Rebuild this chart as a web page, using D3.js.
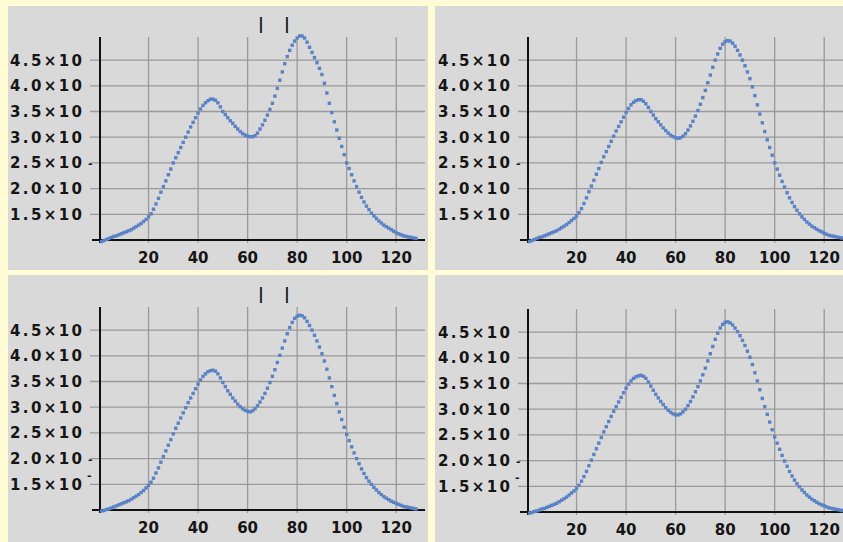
<!DOCTYPE html>
<html>
<head>
<meta charset="utf-8">
<script src="https://cdn.jsdelivr.net/npm/d3@7"></script>
<style>
  body { margin: 0; background: #fffcd6; }
  svg { display: block; }
  text { font-family: "DejaVu Sans", sans-serif; font-weight: bold; fill: #151515; }
</style>
</head>
<body>
<div id="chart"></div>
<script>
// values, one per x = 1 .. 128
const topLeftValues = [
  0.97,0.99,1.01,1.03,1.05,1.07,1.08,1.10,1.12,1.14,
  1.16,1.18,1.20,1.23,1.26,1.29,1.32,1.36,1.40,1.45,
  1.51,1.60,1.70,1.81,1.93,2.04,2.15,2.27,2.38,2.50,
  2.60,2.70,2.80,2.90,3.00,3.10,3.20,3.29,3.38,3.47,
  3.55,3.62,3.67,3.71,3.74,3.74,3.72,3.67,3.59,3.50,
  3.44,3.38,3.32,3.27,3.21,3.16,3.11,3.07,3.04,3.02,
  3.01,3.01,3.03,3.08,3.16,3.24,3.33,3.43,3.54,3.66,
  3.80,3.95,4.11,4.27,4.43,4.57,4.69,4.79,4.87,4.93,
  4.97,4.97,4.93,4.85,4.75,4.65,4.55,4.45,4.34,4.22,
  4.05,3.86,3.66,3.48,3.30,3.14,2.98,2.82,2.66,2.50,
  2.39,2.27,2.15,2.04,1.93,1.83,1.74,1.66,1.59,1.52,
  1.47,1.42,1.37,1.33,1.29,1.26,1.23,1.20,1.17,1.14,
  1.12,1.10,1.08,1.07,1.06,1.05,1.04,1.03
];
const topRightValues = [
  0.97,0.99,1.01,1.03,1.05,1.06,1.08,1.10,1.12,1.14,
  1.16,1.18,1.21,1.24,1.27,1.30,1.34,1.38,1.42,1.47,
  1.53,1.61,1.71,1.82,1.94,2.05,2.16,2.28,2.39,2.51,
  2.62,2.72,2.82,2.92,3.02,3.12,3.21,3.30,3.39,3.48,
  3.56,3.63,3.68,3.71,3.73,3.73,3.70,3.65,3.58,3.50,
  3.43,3.36,3.30,3.24,3.18,3.13,3.08,3.04,3.01,2.99,
  2.98,2.99,3.02,3.07,3.14,3.22,3.31,3.41,3.52,3.64,
  3.77,3.91,4.06,4.21,4.36,4.50,4.62,4.73,4.81,4.86,
  4.88,4.87,4.83,4.77,4.69,4.60,4.50,4.39,4.27,4.14,
  3.98,3.81,3.63,3.45,3.28,3.11,2.95,2.80,2.65,2.50,
  2.38,2.26,2.14,2.03,1.92,1.82,1.73,1.65,1.58,1.51,
  1.45,1.40,1.35,1.31,1.27,1.24,1.21,1.18,1.16,1.13,
  1.11,1.09,1.08,1.07,1.06,1.05,1.04,1.03
];
const bottomLeftValues = [
  0.98,0.99,1.01,1.02,1.04,1.06,1.08,1.10,1.12,1.14,
  1.16,1.18,1.21,1.24,1.27,1.30,1.34,1.38,1.43,1.48,
  1.54,1.62,1.72,1.82,1.93,2.04,2.15,2.26,2.37,2.48,
  2.59,2.69,2.79,2.89,2.99,3.09,3.18,3.27,3.36,3.45,
  3.53,3.60,3.65,3.69,3.71,3.72,3.70,3.65,3.57,3.48,
  3.40,3.32,3.25,3.18,3.12,3.06,3.01,2.97,2.94,2.92,
  2.91,2.93,2.97,3.03,3.10,3.18,3.27,3.37,3.48,3.60,
  3.73,3.87,4.01,4.15,4.29,4.43,4.55,4.65,4.73,4.77,
  4.79,4.78,4.74,4.67,4.59,4.50,4.40,4.29,4.17,4.04,
  3.90,3.74,3.57,3.40,3.23,3.07,2.91,2.76,2.61,2.47,
  2.35,2.23,2.11,2.00,1.90,1.80,1.71,1.63,1.56,1.50,
  1.44,1.39,1.34,1.30,1.26,1.23,1.20,1.17,1.15,1.13,
  1.11,1.09,1.07,1.06,1.05,1.04,1.03,1.02
];
const bottomRightValues = [
  0.98,0.99,1.01,1.02,1.04,1.06,1.07,1.09,1.11,1.13,
  1.15,1.17,1.20,1.23,1.26,1.29,1.33,1.37,1.41,1.46,
  1.52,1.60,1.69,1.79,1.90,2.01,2.12,2.23,2.34,2.45,
  2.56,2.66,2.76,2.86,2.96,3.05,3.14,3.23,3.32,3.41,
  3.49,3.55,3.60,3.63,3.65,3.66,3.64,3.60,3.53,3.45,
  3.37,3.29,3.22,3.15,3.09,3.03,2.98,2.94,2.91,2.89,
  2.89,2.91,2.95,3.00,3.07,3.15,3.24,3.34,3.44,3.55,
  3.67,3.80,3.94,4.08,4.22,4.36,4.48,4.58,4.65,4.69,
  4.70,4.68,4.64,4.58,4.51,4.43,4.34,4.24,4.13,4.01,
  3.87,3.71,3.55,3.38,3.21,3.05,2.90,2.75,2.60,2.46,
  2.34,2.22,2.10,1.99,1.89,1.79,1.70,1.62,1.55,1.49,
  1.43,1.38,1.33,1.29,1.25,1.22,1.19,1.16,1.14,1.12,
  1.10,1.08,1.07,1.06,1.05,1.04,1.03,1.02
];

const xTicks = [20, 40, 60, 80, 100, 120];
const yTicks = [1.5, 2.0, 2.5, 3.0, 3.5, 4.0, 4.5];
const yTickLabels = ['1.5×10', '2.0×10', '2.5×10', '3.0×10', '3.5×10', '4.0×10', '4.5×10'];

const width = 843;
const height = 542;

const panels = [
  { values: topLeftValues,     box: [8, 6, 420, 264],     dx: 0,   dy: 0,   dashes: [2.5], raised: [],    bars: true },
  { values: topRightValues,    box: [435, 6, 408, 264],   dx: 428, dy: 0,   dashes: [2.5], raised: [],    bars: false },
  { values: bottomLeftValues,  box: [8, 275, 420, 267],   dx: 0,   dy: 270, dashes: [2.0], raised: [1.5], bars: true },
  { values: bottomRightValues, box: [435, 275, 408, 267], dx: 428, dy: 272, dashes: [2.0], raised: [1.5], bars: false },
];

const svg = d3.select('#chart')
  .append('svg')
  .attr('width', width)
  .attr('height', height);

// local scales, shared by every panel
const xScale = d3.scaleLinear().domain([0, 131.5]).range([99, 424.7]);
const yScale = d3.scaleLinear().domain([1, 4.95]).range([240, 37]);

function drawPanel(p) {
  const [bx, by, bw, bh] = p.box;
  svg.append('rect')
    .attr('x', bx).attr('y', by)
    .attr('width', bw).attr('height', bh)
    .attr('fill', '#d9d9d9');

  const g = svg.append('g').attr('transform', `translate(${p.dx}, ${p.dy})`);

  // horizontal gridlines (poke out a little left of the axis)
  g.append('g')
    .selectAll('line')
    .data(yTicks)
    .join('line')
    .attr('x1', 90).attr('x2', 425)
    .attr('y1', (d) => yScale(d)).attr('y2', (d) => yScale(d))
    .attr('stroke', '#9a9a9a')
    .attr('stroke-width', 1.3);

  // vertical gridlines
  g.append('g')
    .selectAll('line')
    .data(xTicks)
    .join('line')
    .attr('x1', (d) => xScale(d)).attr('x2', (d) => xScale(d))
    .attr('y1', 37).attr('y2', 243)
    .attr('stroke', '#9a9a9a')
    .attr('stroke-width', 1.3);

  // axes
  g.append('line')
    .attr('x1', 92).attr('x2', 425)
    .attr('y1', yScale(1)).attr('y2', yScale(1))
    .attr('stroke', '#111').attr('stroke-width', 2);
  g.append('line')
    .attr('x1', 100).attr('x2', 100)
    .attr('y1', 37).attr('y2', 243)
    .attr('stroke', '#111').attr('stroke-width', 2);

  // y labels
  g.append('g')
    .selectAll('text')
    .data(yTicks)
    .join('text')
    .attr('x', 10)
    .attr('y', (d) => yScale(d) + 5.5)
    .attr('font-size', 15)
    .attr('textLength', 72)
    .attr('lengthAdjust', 'spacing')
    .text((d, i) => yTickLabels[i]);

  // stray minus signs next to some labels
  g.append('g')
    .selectAll('text')
    .data(p.dashes)
    .join('text')
    .attr('x', 88)
    .attr('y', (d) => yScale(d) + 4)
    .attr('font-size', 11)
    .text('-');
  g.append('g')
    .selectAll('text')
    .data(p.raised)
    .join('text')
    .attr('x', 87)
    .attr('y', (d) => yScale(d) - 5)
    .attr('font-size', 11)
    .text('-');

  // x labels
  g.append('g')
    .selectAll('text')
    .data(xTicks)
    .join('text')
    .attr('x', (d) => xScale(d))
    .attr('y', 263)
    .attr('text-anchor', 'middle')
    .attr('font-size', 15)
    .text((d) => d);

  if (p.bars) {
    g.append('g')
      .selectAll('text')
      .data([261, 287])
      .join('text')
      .attr('x', (d) => d)
      .attr('y', 29)
      .attr('text-anchor', 'middle')
      .attr('font-size', 16)
      .text('|');
  }

  // data dots
  g.append('g')
    .attr('class', 'dots')
    .selectAll('rect')
    .data(p.values)
    .join('rect')
    .attr('x', (d, i) => xScale(i + 1) - 1.7)
    .attr('y', (d) => yScale(d) - 1.7)
    .attr('width', 3.4)
    .attr('height', 3.4)
    .attr('fill', '#5a82c6');
}

panels.forEach(drawPanel);
</script>
</body>
</html>
